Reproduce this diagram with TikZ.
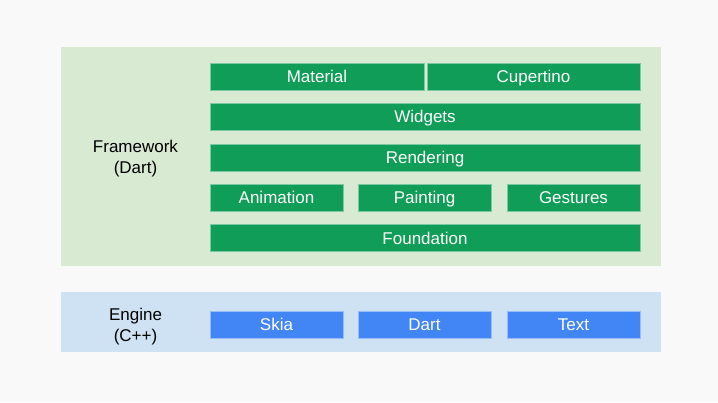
\documentclass[tikz,border=0pt]{standalone}
\usepackage{fontspec}
\setmainfont{Liberation Sans}
\definecolor{pagebg}{HTML}{F9F9F9}
\definecolor{fwback}{HTML}{D9EAD3}
\definecolor{enback}{HTML}{CFE2F3}
\definecolor{fwgreen}{HTML}{0F9D58}
\definecolor{enblue}{HTML}{4285F4}
\begin{document}
\begin{tikzpicture}[x=1pt,y=-1pt]

\tikzset{layer/.style={rectangle,minimum width=600pt,inner sep=0pt,draw=none},}
\tikzset{layertext/.style={align=center,inner sep=0pt,text=black,font=\fontsize{17}{21}\selectfont},}
\tikzset{fwbar/.style={rectangle,minimum height=27pt,inner sep=0pt,text height=12.2pt,text depth=0pt,fill=fwgreen,draw=fwgreen!55!white,line width=0.7pt,text=white,font=\fontsize{17}{21}\selectfont},}
\tikzset{enbar/.style={rectangle,minimum height=27pt,inner sep=0pt,text height=12.2pt,text depth=0pt,fill=enblue,draw=enblue!55!white,line width=0.7pt,text=white,font=\fontsize{17}{21}\selectfont},}

\fill[pagebg] (0,0) rectangle (718,402);
\useasboundingbox (0,0) rectangle (718,402);

	\draw
		(361,156.5) node[layer,fill=fwback,minimum height=219pt] (fw) {}
		(361,322) node[layer,fill=enback,minimum height=60pt] (en) {}
		
		(135.5,159) node[layertext] (fwname) {Framework\\(Dart)}
		(135.5,326.5) node[layertext] (enname) {Engine\\(C++)}
;

	\draw
		(317,76.5) node[fwbar,minimum width=214pt] (mat) {Material}
		(533.5,76.5) node[fwbar,minimum width=213pt] (cup) {Cupertino}
		(425,116.5) node[fwbar,minimum width=430pt] (wid) {Widgets}
		(425,157.5) node[fwbar,minimum width=430pt] (ren) {Rendering}
		
		(276.5,197.5) node[fwbar,minimum width=133pt] (ani) {Animation}
		(424.5,197.5) node[fwbar,minimum width=133pt] (pai) {Painting}
		(573.5,197.5) node[fwbar,minimum width=133pt] (ges) {Gestures}
		(425,238) node[fwbar,minimum width=430pt] (fou) {Foundation}
		
		(276.5,324.5) node[enbar,minimum width=133pt] (skia) {Skia}
		(424.5,324.5) node[enbar,minimum width=133pt] (dart) {Dart}
		(573.5,324.5) node[enbar,minimum width=133pt] (text) {Text}
;

\end{tikzpicture}
\end{document}
